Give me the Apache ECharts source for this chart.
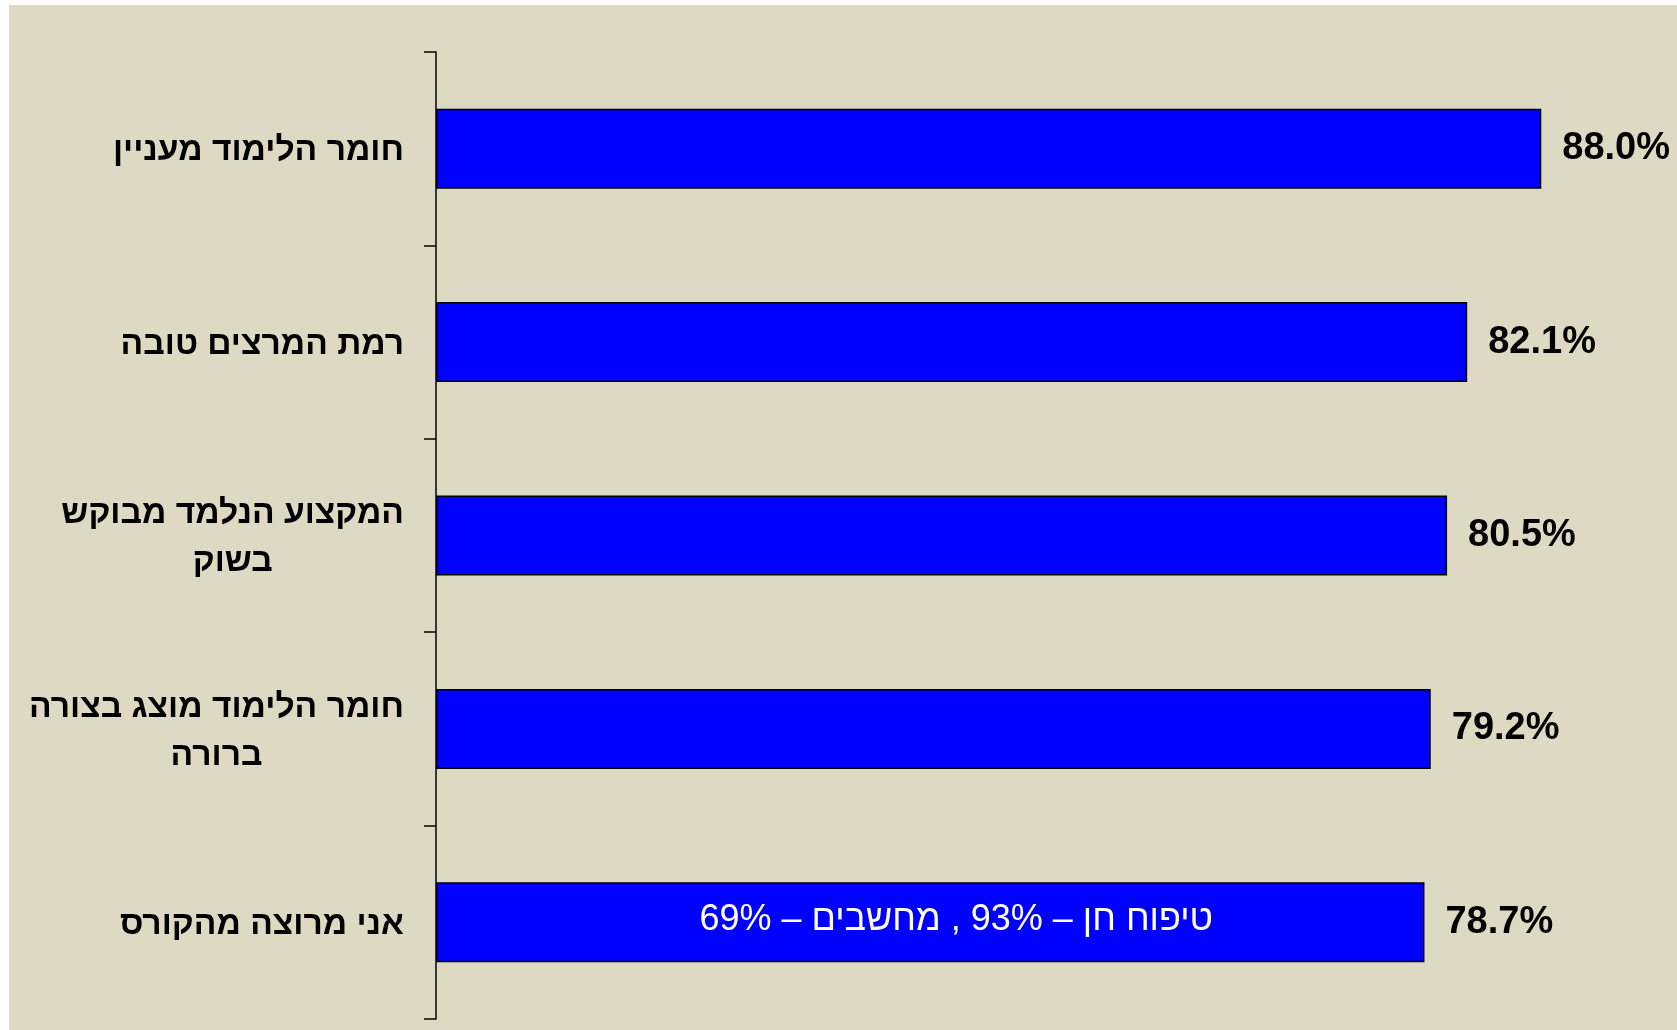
<!DOCTYPE html>
<html>
<head>
<meta charset="utf-8">
<script src="https://cdn.jsdelivr.net/npm/echarts@6/dist/echarts.min.js"></script>
<style>
html,body{margin:0;padding:0;background:#ffffff;}
#chart{width:1677px;height:1030px;}
</style>
</head>
<body>
<div id="chart"></div>
<script>
// Data
const categories = [
  'חומר הלימוד מעניין',
  'רמת המרצים טובה',
  'המקצוע הנלמד מבוקש\nבשוק',
  'חומר הלימוד מוצג בצורה\nברורה',
  'אני מרוצה מהקורס'
];
const values = [88.0, 82.1, 80.5, 79.2, 78.7];
const noteText = 'טיפוח חן – 93% , מחשבים – 69%';
const noteCategoryIndex = 4;

const FONT = '"Liberation Sans", Arial, "DejaVu Sans", sans-serif';
const NARROW = '"Liberation Sans Narrow", "Arial Narrow", "Liberation Sans", sans-serif';

const noteData = values.map((v, i) => i === noteCategoryIndex ? v : null);

const chart = echarts.init(document.getElementById('chart'), null, {renderer: 'canvas'});
chart.setOption({
  backgroundColor: '#ffffff',
  animation: false,
  graphic: [{
    type: 'rect', z: -10, silent: true,
    shape: {x: 9, y: 5, width: 1677, height: 1030},
    style: {fill: '#DDD9C3'}
  }],
  grid: {left: 436, top: 52, bottom: 11, width: 1130.4, containLabel: false},
  xAxis: {
    type: 'value', min: 0, max: 90, show: false
  },
  yAxis: {
    type: 'category',
    inverse: true,
    data: categories,
    axisLine: {show: true, lineStyle: {color: '#000', width: 1.5}},
    axisTick: {show: true, length: 12, lineStyle: {color: '#000', width: 1.5}},
    splitLine: {show: false},
    axisLabel: {
      margin: 32,
      padding: [5, 0, 0, 0],
      formatter: function (v) {
        return v.split('\n').map(s => '{c|' + s + '}').join('\n');
      },
      rich: {
        c: {align: 'center', fontSize: 33.6, fontWeight: 'bold', color: '#000', fontFamily: FONT, lineHeight: 48}
      }
    }
  },
  series: [{
    type: 'bar',
    data: values,
    barWidth: 80,
    itemStyle: {color: '#0000FF', borderColor: '#000', borderWidth: 1.5},
    label: {
      show: true, position: 'right', distance: 21,
      padding: [5, 0, 0, 0],
      formatter: p => p.value.toFixed(1) + '%',
      fontSize: 38, fontWeight: 'bold', color: '#000', fontFamily: FONT
    },
    z: 2
  }, {
    type: 'bar',
    data: noteData,
    barWidth: 80,
    barGap: '-100%',
    silent: true,
    itemStyle: {color: 'rgba(0,0,0,0)', borderWidth: 0},
    label: {
      show: true, position: 'inside', offset: [26, -2],
      formatter: () => noteText,
      fontSize: 36, fontWeight: 'normal', color: '#fff', fontFamily: NARROW
    },
    z: 3
  }]
});
</script>
</body>
</html>
